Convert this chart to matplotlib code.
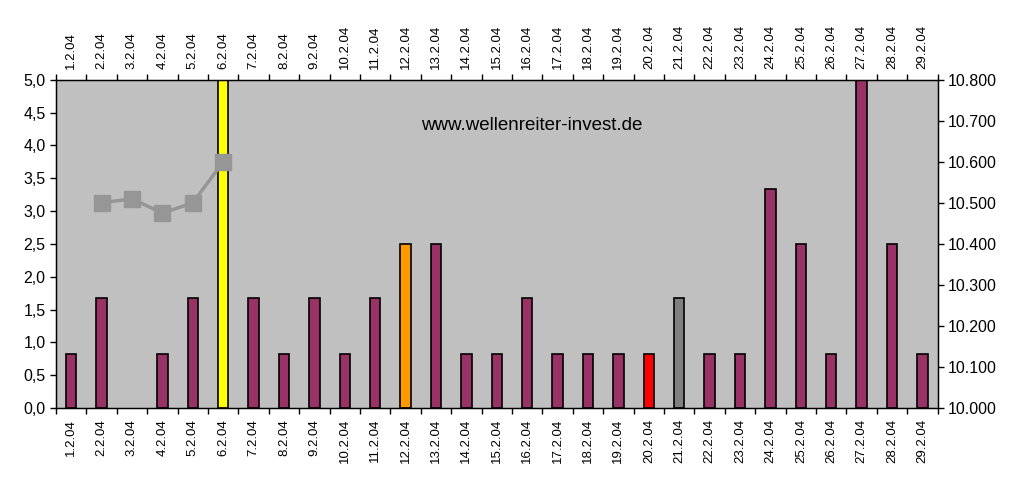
import numpy as np
import matplotlib.pyplot as plt

dates = ['1.2.04', '2.2.04', '3.2.04', '4.2.04', '5.2.04', '6.2.04', '7.2.04',
         '8.2.04', '9.2.04', '10.2.04', '11.2.04', '12.2.04', '13.2.04', '14.2.04',
         '15.2.04', '16.2.04', '17.2.04', '18.2.04', '19.2.04', '20.2.04', '21.2.04',
         '22.2.04', '23.2.04', '24.2.04', '25.2.04', '26.2.04', '27.2.04', '28.2.04',
         '29.2.04']
bars = [0.83, 1.67, 0, 0.83, 1.67, 5.0, 1.67, 0.83, 1.67, 0.83, 1.67, 2.5, 2.5, 0.83,
        0.83, 1.67, 0.83, 0.83, 0.83, 0.83, 1.67, 0.83, 0.83, 3.33, 2.5, 0.83, 5.0, 2.5,
        0.83]
# highlighted days
special = {'6.2.04': '#ffff00', '12.2.04': '#ff9900', '20.2.04': '#ff0000',
           '21.2.04': '#808080'}

line_dates = ['2.2.04', '3.2.04', '4.2.04', '5.2.04', '6.2.04']
line_vals = [10500, 10510, 10475, 10500, 10600]

plt.rcParams['font.family'] = ['Liberation Sans', 'DejaVu Sans']

fig = plt.figure(figsize=(10.17, 4.82), dpi=100)
ax = fig.add_axes([0.055, 0.1535, 0.867, 0.681])
ax.set_facecolor('#c0c0c0')

x = np.arange(len(dates))
colors = [special.get(d, '#993366') for d in dates]
edges = ['black' if v > 0 else 'none' for v in bars]
ax.bar(x, bars, 0.34, color=colors, edgecolor=edges, linewidth=1.2, zorder=2)

ax.set_xlim(-0.5, len(dates) - 0.5)
ax.set_ylim(0, 5)
ax.set_yticks(np.arange(0, 5.01, 0.5))
ax.set_yticklabels([f'{v:.1f}'.replace('.', ',') for v in np.arange(0, 5.01, 0.5)],
                   fontsize=11.5)

# boundaries get the tick marks, centres get the labels
ax.set_xticks(np.arange(len(dates) + 1) - 0.5)
ax.set_xticklabels([])
ax.set_xticks(x, minor=True)
ax.set_xticklabels(dates, minor=True, rotation=90, fontsize=9.5)
ax.tick_params(axis='x', which='major', length=4, width=1, top=True, direction='out')
ax.tick_params(axis='x', which='minor', length=0, pad=8, top=True, labeltop=True)
ax.tick_params(axis='y', length=4, width=1)
for s in ax.spines.values():
    s.set_linewidth(1)

ax.text(0.54, 0.86, 'www.wellenreiter-invest.de', transform=ax.transAxes,
        ha='center', va='center', fontsize=13.5)

ax2 = ax.twinx()
lx = [dates.index(d) for d in line_dates]
ax2.plot(lx, line_vals, color='#969696', linewidth=2.5, marker='s', markersize=11,
         zorder=3)
ax2.set_ylim(10000, 10800)
ax2.set_yticks(np.arange(10000, 10801, 100))
ax2.set_yticklabels([f'{v:,}'.replace(',', '.') for v in range(10000, 10801, 100)],
                    fontsize=11.5)
ax2.tick_params(axis='y', length=4, width=1)

fig.savefig('out.png', dpi=100)
